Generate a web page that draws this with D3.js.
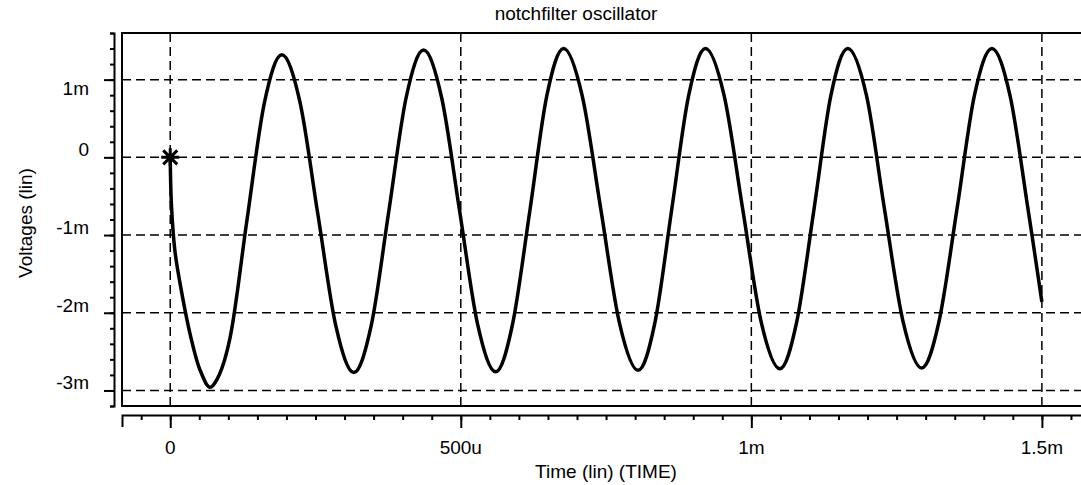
<!DOCTYPE html>
<html>
<head>
<meta charset="utf-8">
<script src="https://cdn.jsdelivr.net/npm/d3@7"></script>
<style>
  body { margin: 0; background: #fff; }
  svg { display: block; font-family: "Liberation Sans", Arial, sans-serif; }
</style>
</head>
<body>
<svg></svg>
<script>
const width = 1081
const height = 485

// time in ms, voltage in mV
const timeMs = [0, 0.002, 0.008, 0.020, 0.035, 0.052, 0.073,
  0.103, 0.132, 0.162, 0.192, 0.223, 0.254, 0.285, 0.316,
  0.346, 0.376, 0.406, 0.436, 0.467, 0.498, 0.529, 0.560,
  0.589, 0.619, 0.648, 0.677, 0.709, 0.741, 0.773, 0.805,
  0.834, 0.863, 0.892, 0.921, 0.953, 0.985, 1.017, 1.049,
  1.078, 1.108, 1.137, 1.166, 1.198, 1.229, 1.261, 1.293,
  1.323, 1.354, 1.384, 1.414, 1.445, 1.476, 1.500]
const voltMv = [0, -0.6, -1.2, -1.75, -2.3, -2.75, -2.94,
  -2.32, -0.81, 0.70, 1.32, 0.72, -0.73, -2.17, -2.77,
  -2.16, -0.70, 0.77, 1.38, 0.77, -0.69, -2.15, -2.76,
  -2.15, -0.68, 0.79, 1.40, 0.79, -0.67, -2.13, -2.74,
  -2.13, -0.67, 0.79, 1.40, 0.80, -0.66, -2.12, -2.72,
  -2.12, -0.66, 0.80, 1.40, 0.80, -0.66, -2.11, -2.71,
  -2.11, -0.66, 0.80, 1.40, 0.80, -0.66, -1.86]

const xTicks = [0, 0.5, 1, 1.5]
const xTickLabels = ['0', '500u', '1m', '1.5m']
const yTicks = [1, 0, -1, -2, -3]
const yTickLabels = ['1m', '0', '-1m', '-2m', '-3m']
const markerPoint = [0, 0]

const plot = {left: 122, top: 33, bottom: 406, right: 1100}

const x = d3.scaleLinear()
  .domain([-0.083, 1.6])
  .range([plot.left, plot.right])
const y = d3.scaleLinear()
  .domain([-3.2, 1.6])
  .range([plot.bottom, plot.top])

const svg = d3.select('svg')
  .attr('width', width)
  .attr('height', height)

svg.append('rect')
  .attr('width', width)
  .attr('height', height)
  .attr('fill', '#fff')

// title + axis labels
svg.append('text')
  .attr('x', 576)
  .attr('y', 20)
  .attr('text-anchor', 'middle')
  .style('font-size', '19px')
  .text('notchfilter oscillator')

svg.append('text')
  .attr('transform', 'translate(32,223) rotate(-90)')
  .attr('text-anchor', 'middle')
  .style('font-size', '19px')
  .text('Voltages (lin)')

svg.append('text')
  .attr('x', 606)
  .attr('y', 478)
  .attr('text-anchor', 'middle')
  .style('font-size', '19px')
  .text('Time (lin) (TIME)')

// grid
const grid = svg.append('g')
  .attr('stroke', '#000')
  .attr('stroke-width', 1.5)
  .attr('stroke-dasharray', '9,5')

grid.selectAll('.hgrid')
  .data(yTicks)
  .join('line')
  .attr('x1', plot.left)
  .attr('x2', plot.right)
  .attr('y1', d => y(d))
  .attr('y2', d => y(d))

grid.selectAll('.vgrid')
  .data(xTicks)
  .join('line')
  .attr('x1', d => x(d))
  .attr('x2', d => x(d))
  .attr('y1', plot.top)
  .attr('y2', plot.bottom)

// frame
svg.append('path')
  .attr('d', `M${plot.right},${plot.top}H${plot.left}V${plot.bottom}H${plot.right}`)
  .attr('fill', 'none')
  .attr('stroke', '#000')
  .attr('stroke-width', 2)

// y axis (separate line left of the frame)
const yMinor = d3.range(-3.2, 1.61, 0.2)
svg.append('g')
  .attr('transform', 'translate(114,0)')
  .call(d3.axisLeft(y).tickValues(yMinor).tickSize(4).tickSizeOuter(4).tickFormat(''))
svg.append('g')
  .attr('transform', 'translate(114,0)')
  .call(d3.axisLeft(y).tickValues(yTicks).tickSize(10).tickFormat(''))
  .call(g => g.select('.domain').remove())

svg.selectAll('.ylab')
  .data(yTicks)
  .join('text')
  .attr('x', 89)
  .attr('y', (d, i) => i === 0 ? y(d) + 15 : y(d) - 1)
  .attr('text-anchor', 'end')
  .style('font-size', '19px')
  .text((d, i) => yTickLabels[i])

// x axis (separate line under the frame)
const xMinor = d3.range(-0.05, 1.6, 0.05)
svg.append('g')
  .attr('transform', 'translate(0,415)')
  .call(d3.axisBottom(x).tickValues(xMinor).tickSize(5).tickSizeOuter(12).tickFormat(''))
svg.append('g')
  .attr('transform', 'translate(0,415)')
  .call(d3.axisBottom(x).tickValues(xTicks).tickSize(13).tickFormat(''))
  .call(g => g.select('.domain').remove())

svg.selectAll('.xlab')
  .data(xTicks)
  .join('text')
  .attr('x', d => x(d))
  .attr('y', 454)
  .attr('text-anchor', 'middle')
  .style('font-size', '19px')
  .text((d, i) => xTickLabels[i])

svg.selectAll('.domain, .tick line')
  .attr('stroke-width', 2)

// waveform
const line = d3.line()
  .x((d, i) => x(timeMs[i]))
  .y(d => y(d))
  .curve(d3.curveCatmullRom.alpha(0))

svg.append('path')
  .datum(voltMv)
  .attr('d', line)
  .attr('fill', 'none')
  .attr('stroke', '#000')
  .attr('stroke-width', 3.5)
  .attr('stroke-linejoin', 'round')

// start marker
const mx = x(markerPoint[0])
const my = y(markerPoint[1])
svg.append('path')
  .attr('d', `M${mx - 7},${my - 7}L${mx + 7},${my + 7}M${mx - 7},${my + 7}L${mx + 7},${my - 7}` +
    `M${mx - 9},${my}H${mx + 9}M${mx},${my - 9}V${my + 9}`)
  .attr('stroke', '#000')
  .attr('stroke-width', 3)
</script>
</body>
</html>
